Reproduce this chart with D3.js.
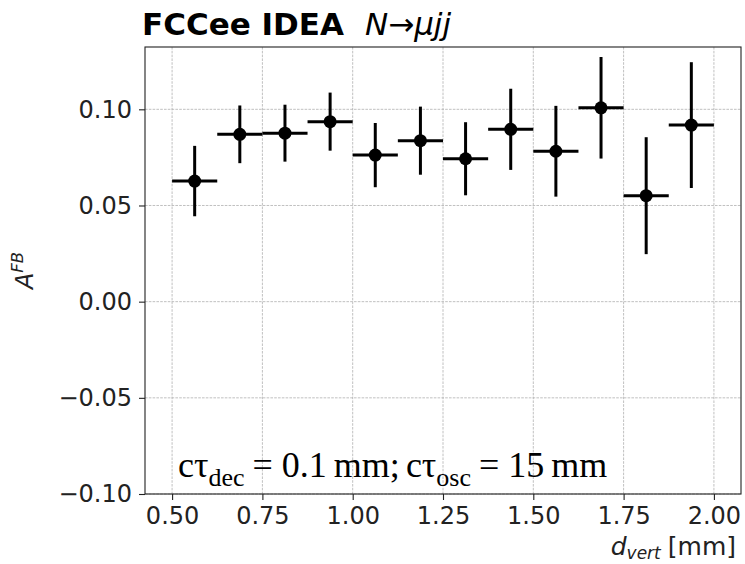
<!DOCTYPE html>
<html>
<head>
<meta charset="utf-8">
<script src="https://cdn.jsdelivr.net/npm/d3@7"></script>
<style>
  html, body { margin: 0; padding: 0; background: #fff; }
  svg { display: block; }
</style>
</head>
<body>
<svg id="chart" width="745" height="564"></svg>
<script>
// Forward-backward asymmetry per vertex-displacement bin
const binCenters = [0.5625, 0.6875, 0.8125, 0.9375, 1.0625, 1.1875, 1.3125, 1.4375, 1.5625, 1.6875, 1.8125, 1.9375];
const binHalfWidth = [0.0625, 0.0625, 0.0625, 0.0625, 0.0625, 0.0625, 0.0625, 0.0625, 0.0625, 0.0625, 0.0625, 0.0625];
const afbValues = [0.0627, 0.0870, 0.0876, 0.0936, 0.0762, 0.0837, 0.0743, 0.0896, 0.0782, 0.1008, 0.0551, 0.0918];
const afbErrors = [0.0183, 0.0150, 0.0148, 0.0151, 0.0167, 0.0177, 0.0190, 0.0211, 0.0236, 0.0264, 0.0304, 0.0327];
const xTicks = [0.50, 0.75, 1.00, 1.25, 1.50, 1.75, 2.00];
const yTicks = [-0.10, -0.05, 0.00, 0.05, 0.10];

const svg = d3.select("#chart");
const margin = { left: 145, top: 47, right: 4, bottom: 70 };
const W = 745, H = 564;
const plotW = W - margin.left - margin.right;
const plotH = H - margin.top - margin.bottom;

const x = d3.scaleLinear().domain([0.425, 2.075]).range([margin.left, margin.left + plotW]);
const y = d3.scaleLinear().domain([-0.1, 0.1324]).range([margin.top + plotH, margin.top]);

const sans = "DejaVu Sans, sans-serif";
const ink = "#000";

// grid
const grid = svg.append("g").attr("stroke", "#b0b0b0").attr("stroke-width", 0.8).attr("stroke-dasharray", "2.6,1.2");
grid.selectAll("line.gx").data(xTicks).join("line")
  .attr("x1", d => x(d)).attr("x2", d => x(d))
  .attr("y1", margin.top).attr("y2", margin.top + plotH);
grid.selectAll("line.gy").data(yTicks).join("line")
  .attr("y1", d => y(d)).attr("y2", d => y(d))
  .attr("x1", margin.left).attr("x2", margin.left + plotW);

// axes
const xAxis = d3.axisBottom(x).tickValues(xTicks).tickFormat(d3.format(".2f")).tickSize(6).tickPadding(7);
const yAxis = d3.axisLeft(y).tickValues(yTicks).tickFormat(d => d3.format(".2f")(d).replace("-", "\u2212")).tickSize(6).tickPadding(7);

const gx = svg.append("g").attr("transform", `translate(0,${margin.top + plotH})`).call(xAxis);
const gy = svg.append("g").attr("transform", `translate(${margin.left},0)`).call(yAxis);
[gx, gy].forEach(g => {
  g.select(".domain").remove();
  g.selectAll(".tick line").attr("stroke", "#222").attr("stroke-width", 1.1);
  g.selectAll(".tick text").attr("fill", "#222").style("font-family", sans).style("font-size", "24px");
});

// frame
svg.append("rect")
  .attr("x", margin.left).attr("y", margin.top)
  .attr("width", plotW).attr("height", plotH)
  .attr("fill", "none").attr("stroke", "#222").attr("stroke-width", 1.1);

// error bars and markers
const pts = binCenters.map((c, i) => ({ c, hw: binHalfWidth[i], v: afbValues[i], e: afbErrors[i] }));
const marks = svg.append("g");
marks.selectAll("line.xe").data(pts).join("line")
  .attr("x1", d => x(d.c - d.hw)).attr("x2", d => x(d.c + d.hw))
  .attr("y1", d => y(d.v)).attr("y2", d => y(d.v))
  .attr("stroke", ink).attr("stroke-width", 3);
marks.selectAll("line.ye").data(pts).join("line")
  .attr("x1", d => x(d.c)).attr("x2", d => x(d.c))
  .attr("y1", d => y(d.v - d.e)).attr("y2", d => y(d.v + d.e))
  .attr("stroke", ink).attr("stroke-width", 3);
marks.selectAll("circle").data(pts).join("circle")
  .attr("cx", d => x(d.c)).attr("cy", d => y(d.v)).attr("r", 6.5)
  .attr("fill", ink);

// title
const title = svg.append("text").attr("x", 142).attr("y", 35)
  .style("font-family", sans).style("font-size", "31px").attr("fill", "#000");
title.append("tspan").style("font-weight", "bold").text("FCCee IDEA");
title.append("tspan").attr("dx", 21).style("font-style", "italic").text("N\u2192\u03bcjj");

// y label
const yl = svg.append("text")
  .attr("transform", `translate(33,${margin.top + plotH / 2}) rotate(-90)`)
  .attr("text-anchor", "middle")
  .style("font-family", sans).style("font-size", "24px").attr("fill", "#222");
yl.append("tspan").style("font-style", "italic").text("A");
yl.append("tspan").style("font-style", "italic").style("font-size", "16.5px").attr("dy", -10).text("FB");

// x label
const xl = svg.append("text")
  .attr("x", margin.left + plotW - 5).attr("y", 555)
  .attr("text-anchor", "end")
  .style("font-family", sans).style("font-size", "25px").attr("fill", "#222");
xl.append("tspan").style("font-style", "italic").text("d");
xl.append("tspan").style("font-style", "italic").style("font-size", "17px").attr("dy", 4).text("vert");
xl.append("tspan").attr("dy", -4).attr("dx", 7).text("[mm]");

// annotation
const serif = "Liberation Serif, DejaVu Serif, serif";
const ann = svg.append("text").attr("x", 178).attr("y", 477)
  .style("font-family", serif).style("font-size", "36px").attr("fill", "#000");
ann.append("tspan").text("c\u03c4");
ann.append("tspan").style("font-size", "26px").attr("dy", 9).text("dec");
ann.append("tspan").attr("dy", -9).attr("dx", 8).text("=");
ann.append("tspan").attr("dx", 9).text("0.1");
ann.append("tspan").attr("dx", 7).text("mm;");
ann.append("tspan").attr("dx", 6).text("c\u03c4");
ann.append("tspan").style("font-size", "26px").attr("dy", 9).text("osc");
ann.append("tspan").attr("dy", -9).attr("dx", 8).text("=");
ann.append("tspan").attr("dx", 9).text("15");
ann.append("tspan").attr("dx", 7).text("mm");
</script>
</body>
</html>
